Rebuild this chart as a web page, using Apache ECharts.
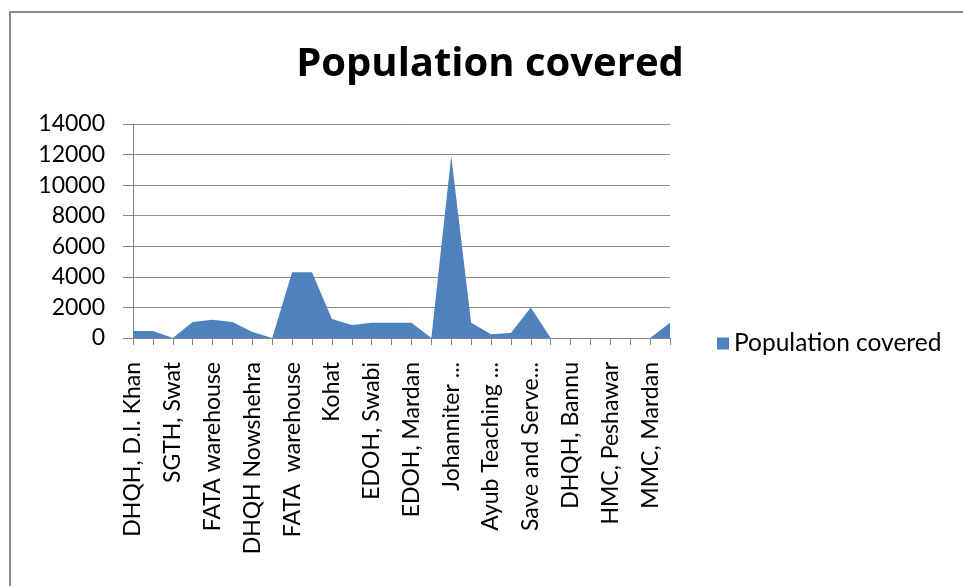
<!DOCTYPE html>
<html>
<head>
<meta charset="utf-8">
<script src="https://cdn.jsdelivr.net/npm/echarts@6/dist/echarts.min.js"></script>
<style>
  html, body { margin: 0; padding: 0; background: #fff; }
  #chart { width: 963px; height: 586px; }
</style>
</head>
<body>
<div id="chart"></div>
<script>
// Facility names along the x axis (every second tick carries a label)
const categories = [
  'DHQH, D.I. Khan', '',
  'SGTH, Swat', '',
  'FATA warehouse', '',
  'DHQH Nowshehra', '',
  'FATA  warehouse', '',
  'Kohat', '',
  'EDOH, Swabi', '',
  'EDOH, Mardan', '',
  'Johanniter ...', '',
  'Ayub Teaching ...', '',
  'Save and Serve...', '',
  'DHQH, Bannu', '',
  'HMC, Peshawar', '',
  'MMC, Mardan', ''
];

// Population covered per facility
const populationCovered = [
  450, 450, 0, 1050, 1200, 1050, 400, 0,
  4300, 4300, 1250, 850, 1000, 1000, 1000, 0,
  11900, 1000, 250, 320, 2000, 0, 0, 0,
  0, 0, 0, 1000
];

const yTicks = { min: 0, max: 14000, interval: 2000 };

const seriesName = 'Population covered';
const fontFamily = 'Lato, "Open Sans", sans-serif';

const chart = echarts.init(document.getElementById('chart'));
chart.setOption({
  backgroundColor: '#fff',
  animation: false,
  graphic: [{
    type: 'rect',
    shape: { x: 10, y: 12, width: 1000, height: 700 },
    style: { fill: 'none', stroke: '#8c8c8c', lineWidth: 2 }
  }],
  title: {
    text: 'Population covered',
    left: 485,
    top: 40,
    textAlign: 'center',
    textStyle: { fontFamily: '"Open Sans", sans-serif', fontWeight: 'bold', fontSize: 40, color: '#000' }
  },
  legend: {
    left: 712,
    top: 326,
    itemWidth: 12,
    itemHeight: 12,
    itemGap: 10,
    icon: 'rect',
    textStyle: { fontFamily: fontFamily, fontSize: 24.5, color: '#000' },
    data: [seriesName]
  },
  grid: { left: 133, top: 124, width: 537, height: 214, containLabel: false },
  xAxis: {
    type: 'category',
    data: categories,
    boundaryGap: false,
    axisLine: { lineStyle: { color: '#868686', width: 1 } },
    axisTick: { show: true, alignWithLabel: true, interval: 0, length: 7, lineStyle: { color: '#868686' } },
    axisLabel: {
      interval: 0,
      rotate: 90,
      margin: 24,
      fontFamily: fontFamily,
      fontSize: 23,
      color: '#000'
    },
    splitLine: { show: false }
  },
  yAxis: {
    type: 'value',
    min: yTicks.min,
    max: yTicks.max,
    interval: yTicks.interval,
    axisLine: { show: true, lineStyle: { color: '#868686', width: 1 } },
    axisTick: { show: true, length: 10, lineStyle: { color: '#868686' } },
    axisLabel: {
      fontFamily: fontFamily, fontSize: 23, color: '#000', margin: 28,
      formatter: (v) => String(v)
    },
    splitLine: { show: true, lineStyle: { color: '#8c8c8c', width: 1 } }
  },
  series: [{
    name: seriesName,
    type: 'line',
    data: populationCovered,
    symbol: 'none',
    lineStyle: { width: 0, color: '#4f81bd' },
    itemStyle: { color: '#4f81bd' },
    areaStyle: { color: '#4f81bd', opacity: 1 },
    z: 3
  }]
});
</script>
</body>
</html>
